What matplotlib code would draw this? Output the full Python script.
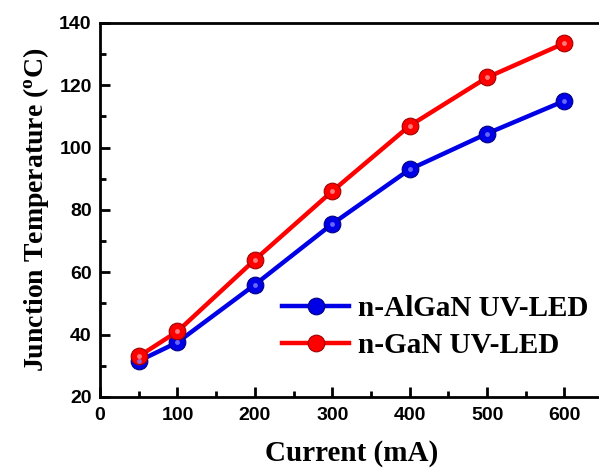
import matplotlib.pyplot as plt
from matplotlib.ticker import MultipleLocator

# junction temperature vs drive current
current = [50, 100, 200, 300, 400, 500, 600]
t_algan = [31.5, 37.5, 56, 75.5, 93, 104.5, 115]
t_gan = [33, 41, 64, 86, 107, 122.5, 133.5]

SERIES = [
    ("n-AlGaN UV-LED", t_algan, "#0000e6", "#000080", "#8080ff"),
    ("n-GaN UV-LED", t_gan, "#ff0000", "#a00000", "#ff9a9a"),
]

fig = plt.figure(figsize=(5.99, 4.68), dpi=100)
ax = fig.add_axes([0.167, 0.152, 0.84, 0.799])

for label, temps, col, edge, hi in SERIES:
    ax.plot(current, temps, color=col, lw=3.2, marker="o", markersize=12,
            markerfacecolor=col, markeredgecolor=edge, markeredgewidth=0.8,
            label=label, zorder=3)
    # small highlight to mimic the shaded sphere markers
    ax.plot(current, temps, ls="none", marker="o", markersize=3.5,
            markerfacecolor=hi, markeredgecolor="none", alpha=0.8, zorder=4)

ax.set_xlim(0, 650)
ax.set_ylim(20, 140)
ax.xaxis.set_major_locator(MultipleLocator(100))
ax.xaxis.set_minor_locator(MultipleLocator(50))
ax.yaxis.set_major_locator(MultipleLocator(20))
ax.yaxis.set_minor_locator(MultipleLocator(10))
ax.tick_params(which="both", direction="in", width=2, top=False, right=False)
ax.tick_params(which="major", length=7, labelsize=14)
ax.tick_params(axis="x", which="major", pad=7)
ax.tick_params(axis="y", which="major", pad=6)
ax.tick_params(which="minor", length=4)
for lab in ax.get_xticklabels() + ax.get_yticklabels():
    lab.set_fontfamily("Liberation Sans")
    lab.set_fontweight("bold")
for sp in ax.spines.values():
    sp.set_linewidth(2)

ax.set_xlabel("Current (mA)", fontsize=21, fontweight="bold",
              fontfamily="Liberation Serif", labelpad=12)
ax.set_ylabel(r"Junction Temperature ($\mathregular{^{o}}$C)", fontsize=20,
              fontweight="bold", fontfamily="Liberation Serif", labelpad=6)

ax.legend(loc="upper left", bbox_to_anchor=(0.31, 0.342), frameon=False,
          prop={"family": "Liberation Serif", "weight": "bold", "size": 21},
          handlelength=2.3, handletextpad=0.3, labelspacing=0.35)

fig.savefig("out.png", dpi=100)
